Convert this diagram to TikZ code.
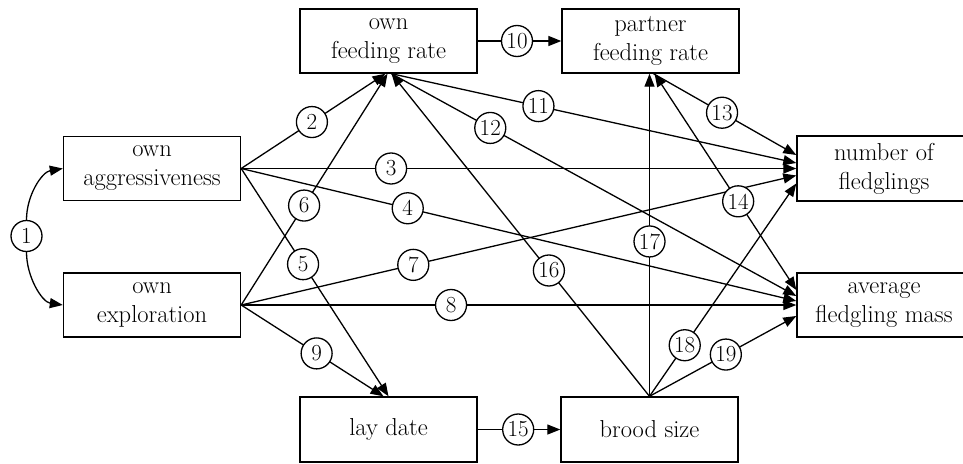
\documentclass[tikz,border=0pt]{standalone}
\usepackage{fontspec}
\usetikzlibrary{arrows.meta}
\begin{document}
\begin{tikzpicture}[x=1pt,y=-1pt,
 box/.style={draw,line width=1.4pt,minimum width=177pt,minimum height=64pt,align=center,inner sep=0pt,font=\fontsize{24.5}{29}\selectfont},
 lab/.style={circle,draw,fill=white,line width=1.3pt,minimum size=31pt,inner sep=0pt,font=\fontsize{23}{28}\selectfont},
 edge/.style={line width=1.3pt,-{Triangle[length=13pt,width=10pt]}},
 biedge/.style={line width=1.3pt,{Triangle[length=13pt,width=10pt]}-{Triangle[length=13pt,width=10pt]}}]
\useasboundingbox (0,0) rectangle (963,463);
\clip (0,0) rectangle (963,463);
% boxes
\node[box] (aggr) at (152,168.5) {own\\aggressiveness};
\node[box] (expl) at (152,305) {own\\exploration};
\node[box] (ofr) at (388.5,41) {own\\feeding rate};
\node[box] (pfr) at (650.5,41) {partner\\feeding rate};
\node[box,minimum width=174pt,minimum height=65pt] (nf) at (884,168.5) {number of\\fledglings};
\node[box,minimum width=174pt] (am) at (884,305) {average\\fledgling mass};
\node[box,minimum height=65pt] (ld) at (388.5,429.5) {lay date};
\node[box,minimum height=65pt] (bs) at (649.5,429.5) {brood size};
% circle 1 and its arrows
\node[lab] (c1) at (26.5,236) {1};
\draw[edge] (c1.north) .. controls (26.5,195) and (42,172) .. (aggr.west);
\draw[edge] (c1.south) .. controls (26.5,277) and (42,302) .. (expl.west);
% edges
\draw[edge] (aggr.east) -- coordinate[pos=.49](p2) ([xshift=-3pt]ofr.south);
\draw[edge] (aggr.east) -- coordinate[pos=.27](p3) (nf.west);
\draw[edge] (aggr.east) -- coordinate[pos=.30](p4) ([yshift=4pt]am.west);
\draw[edge] (aggr.east) -- coordinate[pos=.42](p5) (ld.north);
\draw[edge] (expl.east) -- coordinate[pos=.43](p6) ([xshift=-1pt]ofr.south);
\draw[edge] (expl.east) -- coordinate[pos=.31](p7) ([yshift=-7pt]nf.west);
\draw[edge] (expl.east) -- coordinate[pos=.378](p8) (am.west);
\draw[edge] (expl.east) -- coordinate[pos=.53](p9) ([xshift=-5pt]ld.north);
\draw[edge] (ofr.east) -- coordinate[pos=.47](p10) (pfr.west);
\draw[edge] ([xshift=3pt]ofr.south) -- coordinate[pos=.363](p11) ([yshift=5.5pt]nf.west);
\draw[edge] ([xshift=3pt]ofr.south) -- coordinate[pos=.244](p12) ([yshift=9pt]am.west);
\draw[edge] ([xshift=3pt]pfr.south) -- coordinate[pos=.48](p13) ([yshift=13.5pt]nf.west);
\draw[biedge] ([xshift=4pt]pfr.south) -- coordinate[pos=.59](p14) ([yshift=15pt]am.west);
\draw[edge] (ld.east) -- coordinate[pos=.49](p15) (bs.west);
\draw[edge] (bs.north) -- coordinate[pos=.39](p16) ([xshift=3pt]ofr.south);
\draw[edge] (bs.north) -- coordinate[pos=.48](p17) ([xshift=-1pt]pfr.south);
\draw[edge] (bs.north) -- coordinate[pos=.24](p18) ([yshift=-15pt]nf.west);
\draw[edge] (bs.north) -- coordinate[pos=.52](p19) ([yshift=-11pt]am.west);
% labels
\foreach \i in {2,...,19} {\node[lab] (c\i) at (p\i) {\i};}
\end{tikzpicture}
\end{document}
